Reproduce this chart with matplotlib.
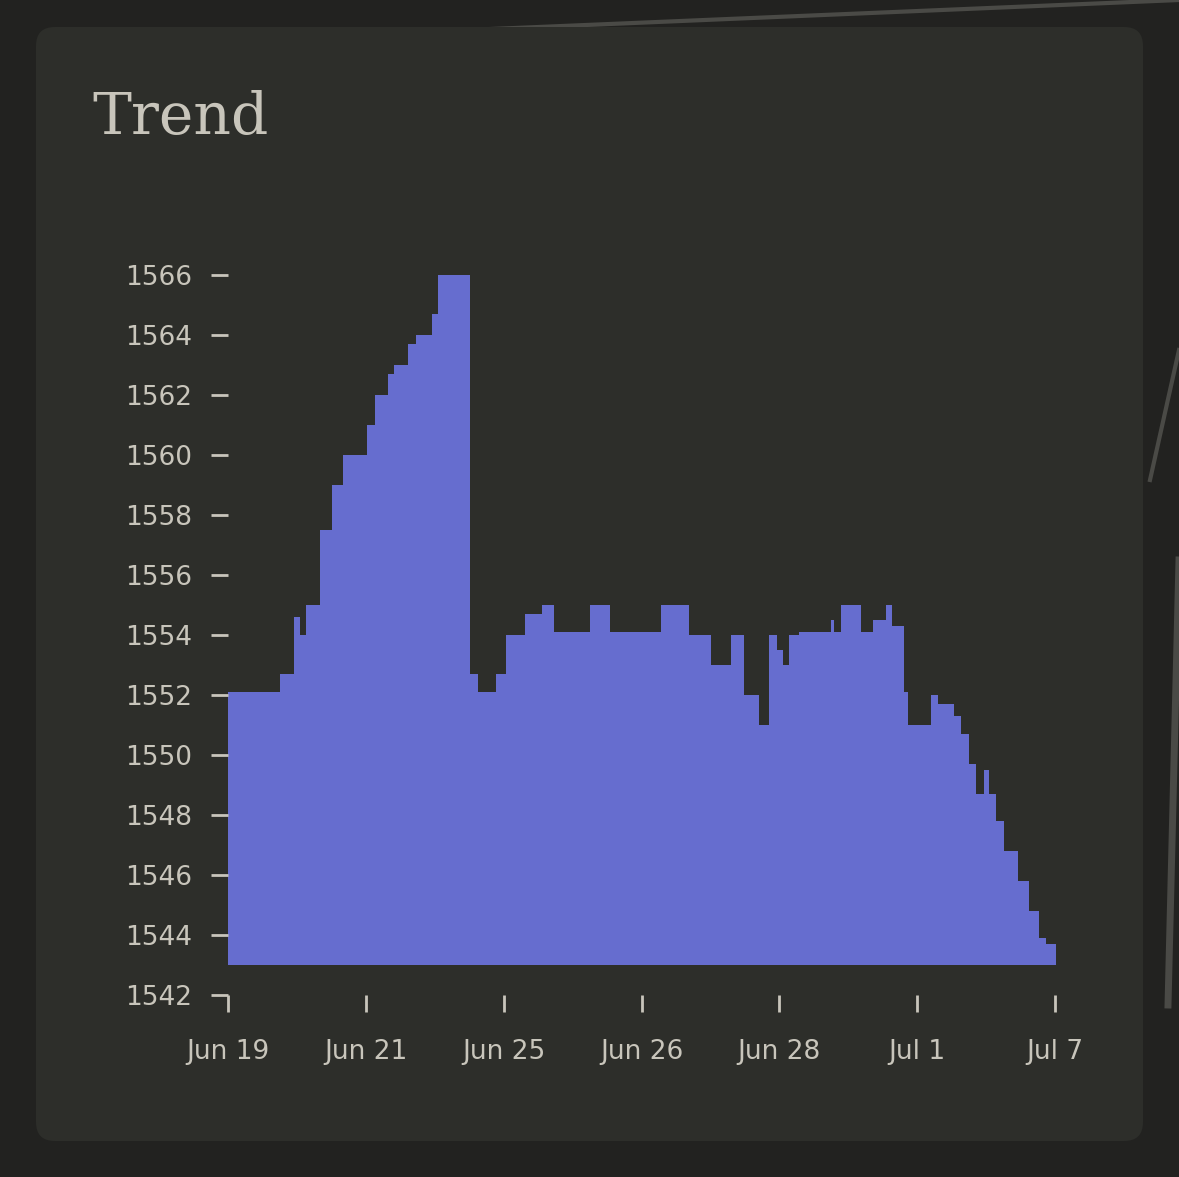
import matplotlib
matplotlib.use("Agg")
import matplotlib.pyplot as plt
from matplotlib.patches import FancyBboxPatch
from matplotlib.lines import Line2D

# time axis in arbitrary units; tick positions below
t = [0, 52, 66, 72, 78, 92, 104, 115, 139, 147, 160, 166, 180, 188, 204, 210, 242, 250, 268, 278, 297, 314, 326,
     362, 382, 434, 462, 484, 504, 517, 532, 542, 550, 556, 562, 572, 604, 607, 614, 634, 646, 659, 665, 677, 681,
     704, 711, 727, 734, 742, 749, 757, 762, 769, 777, 791, 802, 812, 819, 824, 830]
v = [1552.1, 1552.7, 1554.6, 1554.0, 1555.0, 1557.5, 1559.0, 1560.0, 1561.0, 1562.0, 1562.7, 1563.0, 1563.7, 1564.0,
     1564.7, 1566.0, 1552.7, 1552.1, 1552.7, 1554.0, 1554.7, 1555.0, 1554.1, 1555.0, 1554.1, 1555.0, 1554.0, 1553.0,
     1554.0, 1552.0, 1551.0, 1554.0, 1553.5, 1553.0, 1554.0, 1554.1, 1554.5, 1554.1, 1555.0, 1554.1, 1554.5, 1555.0,
     1554.3, 1552.1, 1551.0, 1552.0, 1551.7, 1551.3, 1550.7, 1549.7, 1548.7, 1549.5, 1548.7, 1547.8, 1546.8, 1545.8,
     1544.8, 1543.9, 1543.7, 1543.7, 1543.7]
tick_pos = [0, 138, 276, 414, 552, 690, 828]
tick_labels = ["Jun 19", "Jun 21", "Jun 25", "Jun 26", "Jun 28", "Jul 1", "Jul 7"]
y_ticks = list(range(1542, 1567, 2))

W, H = 1179, 1177
fig = plt.figure(figsize=(W/100, H/100), dpi=100, facecolor="#222220")
fig.add_artist(Line2D([230/W, 1179/W], [1-40/H, 1-0/H], color="#4a4a46", lw=3,
                      transform=fig.transFigure, zorder=-3))
fig.add_artist(Line2D([1150/W, 1179/W], [1-480/H, 1-350/H], color="#4a4a46", lw=3,
                      transform=fig.transFigure, zorder=-3))
fig.add_artist(Line2D([1168/W, 1179/W], [1-1005/H, 1-560/H], color="#4a4a46", lw=5,
                      transform=fig.transFigure, zorder=-3))
card = FancyBboxPatch((36/W, 1-1141/H), (1143-36)/W, (1141-27)/H,
                      boxstyle="round,pad=0,rounding_size=0.016", transform=fig.transFigure,
                      facecolor="#2d2e2a", edgecolor="none", zorder=-2)
fig.add_artist(card)
fig.text(92/W, 1-118/H, "Trend", family="DejaVu Serif", fontsize=42, color="#c8c5bb", va="center")

ax = fig.add_axes([228/W, 1-995/H, (1055-228)/W, (995-275)/H])
ax.set_facecolor("none")
ax.fill_between(t, 1543, v, step="post", color="#666dcf", lw=0)
ax.set_xlim(0, 828)
ax.set_ylim(1542, 1566)
for s in ax.spines.values():
    s.set_visible(False)
txt = "#c8c5bb"
ax.set_yticks(y_ticks)
ax.set_yticklabels([str(y) for y in y_ticks])
ax.set_xticks(tick_pos)
ax.set_xticklabels(tick_labels)
ax.tick_params(axis="y", length=12, width=2, color=txt, labelcolor=txt, labelsize=19, pad=14)
ax.tick_params(axis="x", length=12, width=2, color=txt, labelcolor=txt, labelsize=19, pad=20)
fig.savefig("out.png", dpi=100, facecolor=fig.get_facecolor())
